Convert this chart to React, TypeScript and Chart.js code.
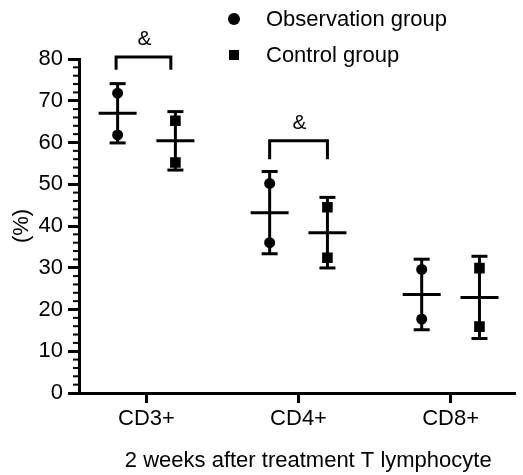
import React, { useEffect, useRef } from "react";
import { Chart, registerables } from "chart.js";

Chart.register(...registerables);

const categories = ["CD3+", "CD4+", "CD8+"];
const seriesNames = ["Observation group", "Control group"];
const obsPoints = [
  [71.8, 61.8],
  [50.2, 36.0],
  [29.6, 17.7],
];
const ctrlPoints = [
  [65.2, 55.2],
  [44.5, 32.4],
  [29.9, 15.9],
];
const obsMean = [67.0, 43.2, 23.6];
const obsSD = [7.1, 9.85, 8.45];
const ctrlMean = [60.4, 38.4, 22.9];
const ctrlSD = [7.0, 8.45, 9.85];
const yTickValues = [0, 10, 20, 30, 40, 50, 60, 70, 80];
const bracketFrom = [0.8, 1.81];
const bracketTo = [1.16, 2.19];
const bracketTop = [80.5, 60.4];
const bracketLegEnd = [77.4, 56.0];
const bracketLabel = ["&", "&"];
const xTitle = "2 weeks after treatment T lymphocyte";
const yTitle = "(%)";

const groupOffset = 0.19;
const FONT = "'Liberation Sans', Arial, Helvetica, sans-serif";

const overlayPlugin = {
  id: "overlay",
  beforeDatasetsDraw(chart: any) {
    const ctx = chart.ctx;
    const xs = chart.scales.x;
    const ys = chart.scales.y;
    const area = chart.chartArea;
    ctx.save();
    ctx.strokeStyle = "#000";
    ctx.fillStyle = "#000";
    ctx.lineCap = "butt";
    // minor ticks
    ctx.lineWidth = 2;
    for (let v = 0; v <= 80; v += 2) {
      if (v % 10 === 0) continue;
      const y = ys.getPixelForValue(v);
      ctx.beginPath();
      ctx.moveTo(area.left - 6, y);
      ctx.lineTo(area.left, y);
      ctx.stroke();
    }
    const line = (x1: number, y1: number, x2: number, y2: number) => {
      ctx.beginPath();
      ctx.moveTo(x1, y1);
      ctx.lineTo(x2, y2);
      ctx.stroke();
    };
    ctx.lineWidth = 3;
    const groups = [
      { means: obsMean, sds: obsSD, off: -groupOffset },
      { means: ctrlMean, sds: ctrlSD, off: groupOffset },
    ];
    groups.forEach((g) =>
      g.means.forEach((m, i) => {
        const x = xs.getPixelForValue(i + 1 + g.off);
        const yT = ys.getPixelForValue(m + g.sds[i]);
        const yB = ys.getPixelForValue(m - g.sds[i]);
        const yM = ys.getPixelForValue(m);
        line(x, yT, x, yB);
        line(x - 8, yT, x + 8, yT);
        line(x - 8, yB, x + 8, yB);
        line(x - 19, yM, x + 19, yM);
      })
    );
    // brackets
    ctx.lineJoin = "miter";
    bracketFrom.forEach((f, i) => {
      const x1 = xs.getPixelForValue(f);
      const x2 = xs.getPixelForValue(bracketTo[i]);
      const yT = ys.getPixelForValue(bracketTop[i]);
      const yL = ys.getPixelForValue(bracketLegEnd[i]);
      ctx.beginPath();
      ctx.moveTo(x1, yL);
      ctx.lineTo(x1, yT);
      ctx.lineTo(x2, yT);
      ctx.lineTo(x2, yL);
      ctx.stroke();
      ctx.font = `21px ${FONT}`;
      ctx.textAlign = "center";
      ctx.textBaseline = "middle";
      ctx.fillText(bracketLabel[i], (x1 + x2) / 2 + 1, yT - 18);
    });
    ctx.restore();
  },
  afterDraw(chart: any) {
    const ctx = chart.ctx;
    const area = chart.chartArea;
    ctx.save();
    ctx.fillStyle = "#000";
    // legend
    ctx.beginPath();
    ctx.arc(234, 19, 6, 0, Math.PI * 2);
    ctx.fill();
    ctx.fillRect(229, 50, 10, 10);
    ctx.font = `22px ${FONT}`;
    ctx.textAlign = "left";
    ctx.textBaseline = "middle";
    ctx.fillText(seriesNames[0], 266, 20);
    ctx.fillText(seriesNames[1], 266, 56);
    // x title
    ctx.textAlign = "center";
    ctx.fillText(xTitle, (area.left + area.right) / 2 + 11, 461);
    ctx.restore();
  },
};

export default function App() {
  const ref = useRef<HTMLCanvasElement>(null);
  useEffect(() => {
    if (!ref.current) return;
    const chart = new Chart(ref.current, {
      type: "scatter",
      data: {
        datasets: [
          {
            label: seriesNames[0],
            data: obsPoints.flatMap((vals, i) =>
              vals.map((v) => ({ x: i + 1 - groupOffset, y: v }))
            ),
            pointStyle: "circle",
            pointRadius: 5.5,
            backgroundColor: "#000",
            borderWidth: 0,
          },
          {
            label: seriesNames[1],
            data: ctrlPoints.flatMap((vals, i) =>
              vals.map((v) => ({ x: i + 1 + groupOffset, y: v }))
            ),
            pointStyle: "rect",
            pointRadius: 7.5,
            backgroundColor: "#000",
            borderWidth: 0,
          },
        ],
      },
      options: {
        animation: false,
        responsive: false,
        layout: { padding: { top: 59, left: 0, right: 0, bottom: 0 } },
        plugins: { legend: { display: false }, tooltip: { enabled: false } },
        scales: {
          x: {
            type: "linear",
            min: 0.556,
            max: 3.427,
            afterBuildTicks: (scale: any) => {
              scale.ticks = categories.map((_, i) => ({ value: i + 1 }));
            },
            afterFit: (scale: any) => {
              scale.height = 82;
            },
            ticks: {
              color: "#000",
              font: { size: 22, family: FONT },
              padding: 3,
              callback: (value: any) => categories[Math.round(Number(value)) - 1] ?? "",
            },
            grid: {
              drawOnChartArea: false,
              tickLength: 10,
              tickWidth: 3,
              tickColor: "#000",
            },
            border: { color: "#000", width: 3 },
          },
          y: {
            min: 0,
            max: 80,
            afterBuildTicks: (scale: any) => {
              scale.ticks = yTickValues.map((v) => ({ value: v }));
            },
            afterFit: (scale: any) => {
              scale.width = 79;
            },
            ticks: {
              color: "#000",
              font: { size: 22, family: FONT },
              padding: 5,
            },
            grid: {
              drawOnChartArea: false,
              tickLength: 11,
              tickWidth: 3,
              tickColor: "#000",
            },
            border: { color: "#000", width: 3 },
            title: {
              display: true,
              text: yTitle,
              color: "#000",
              font: { size: 22, family: FONT },
              padding: { top: 9, bottom: 0 },
            },
          },
        },
      },
      plugins: [overlayPlugin],
    });
    return () => chart.destroy();
  }, []);
  return (
    <div style={{ position: "absolute", left: 0, top: 0, width: 523, height: 475, background: "#fff" }}>
      <canvas ref={ref} width={523} height={475} style={{ display: "block" }} />
    </div>
  );
}
